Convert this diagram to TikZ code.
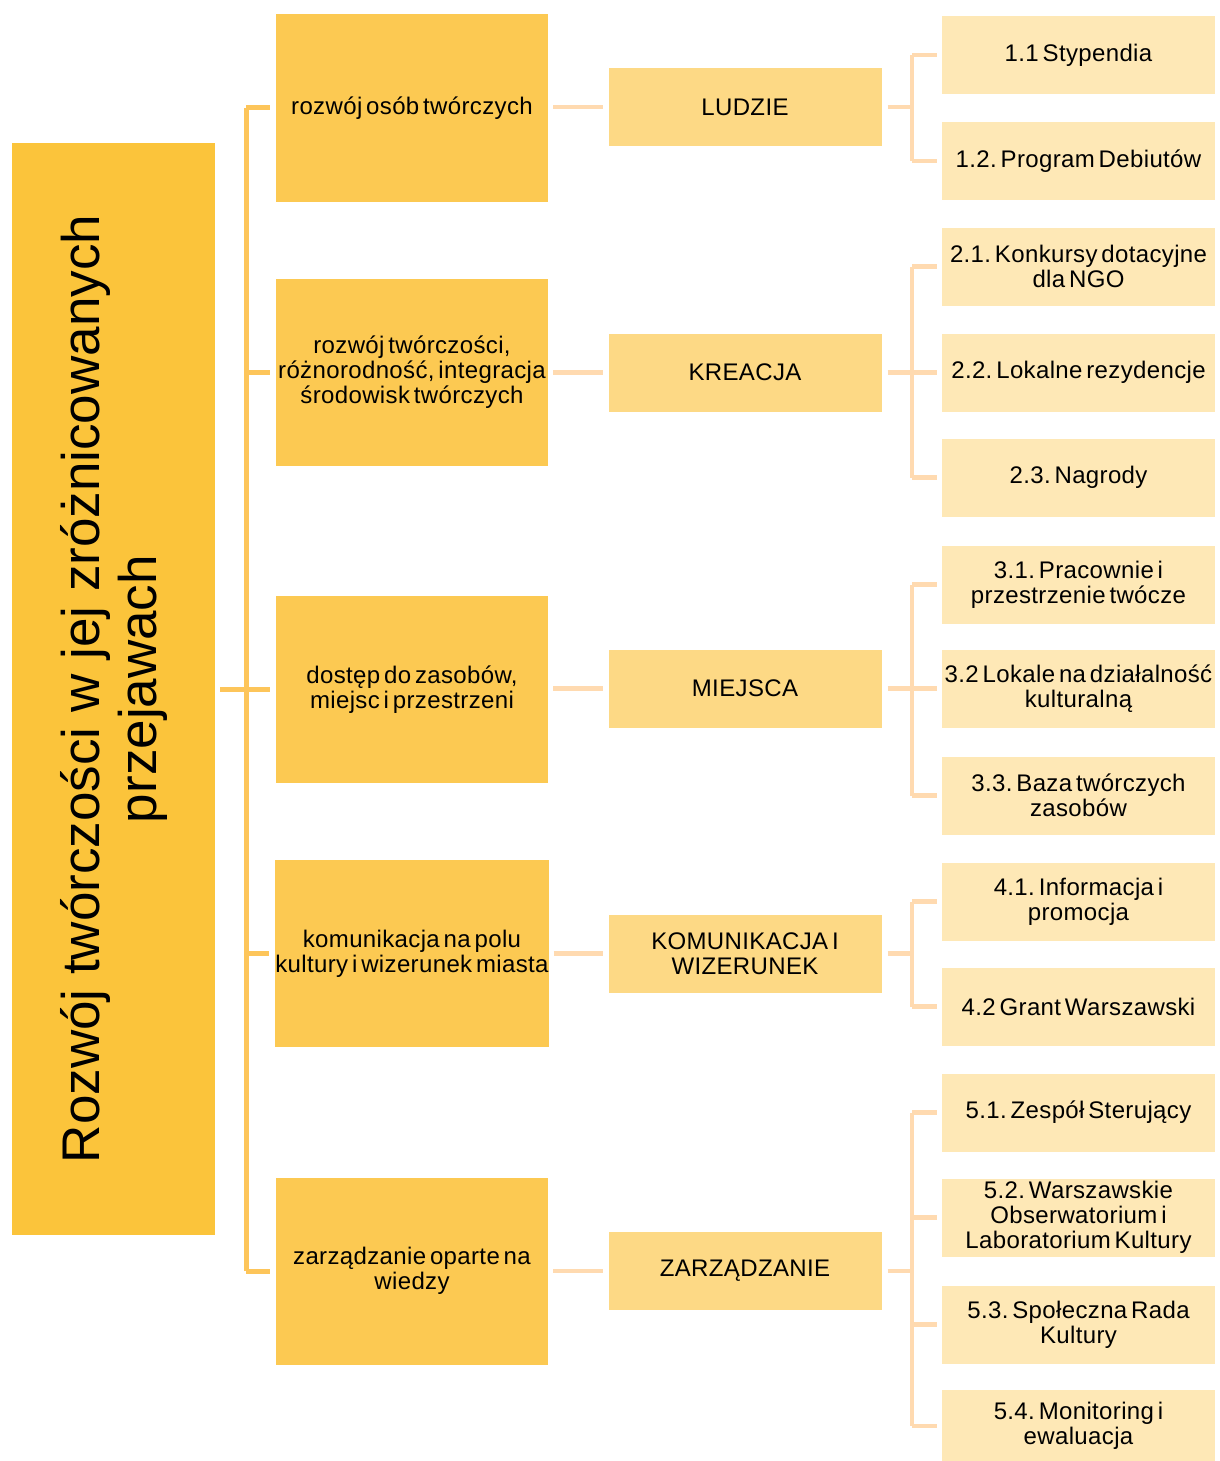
\documentclass[tikz,border=0pt]{standalone}
\usepackage{fontspec}
\setmainfont{Liberation Sans}
\newfontfamily\boxfont[WordSpace=0.55, LetterSpace=1.5]{Liberation Sans}
\definecolor{cTitle}{HTML}{FBC43B}
\definecolor{cA}{HTML}{FCC952}
\definecolor{cB}{HTML}{FDD985}
\definecolor{cC}{HTML}{FEE8B6}
\definecolor{cLineA}{HTML}{FDC55A}
\definecolor{cLineB}{HTML}{FFDAB0}
\frenchspacing
\begin{document}
\begin{tikzpicture}[x=1pt,y=-1pt,
  every node/.style={inner sep=0pt, outer sep=0pt, align=center, text=black,
    font=\boxfont\frenchspacing\fontsize{24}{25}\selectfont},
  titlebox/.style={fill=cTitle, rotate=90, minimum width=1092pt, minimum height=203pt,
    font=\rmfamily\fontsize{53}{57}\selectfont},
  aBox/.style={fill=cA, minimum width=272pt, minimum height=187pt},
  bBox/.style={fill=cB, minimum width=273pt, minimum height=78pt},
  cBox/.style={fill=cC, minimum width=273pt, minimum height=78pt},
  lineA/.style={draw=cLineA, line width=5pt},
  lineB/.style={draw=cLineB, line width=4.5pt},
]
\useasboundingbox (0,0) rectangle (1219,1461);

\node[titlebox] (T) at (113.5,689) {Rozwój twórczości w jej zróżnicowanych\\przejawach};

\node[aBox] (A1) at (412,108) {rozwój osób twórczych};
\node[aBox] (A2) at (412,372) {rozwój twórczości,\\różnorodność, integracja\\środowisk twórczych};
\node[aBox] (A3) at (412,689.5) {dostęp do zasobów,\\miejsc i przestrzeni};
\node[aBox] (A4) at (412,953.5) {komunikacja na polu\\kultury i wizerunek miasta};
\node[aBox] (A5) at (412,1271) {zarządzanie oparte na\\wiedzy};

\node[bBox] (B1) at (745,107) {LUDZIE};
\node[bBox] (B2) at (745,372.5) {KREACJA};
\node[bBox] (B3) at (745,688.5) {MIEJSCA};
\node[bBox] (B4) at (745,953.5) {KOMUNIKACJA I\\WIZERUNEK};
\node[bBox] (B5) at (745,1271) {ZARZĄDZANIE};

\node[cBox] (C11) at (1078.5,55) {1.1 Stypendia};
\node[cBox] (C12) at (1078.5,161) {1.2. Program Debiutów};
\node[cBox] (C21) at (1078.5,266.5) {2.1. Konkursy dotacyjne\\dla NGO};
\node[cBox] (C22) at (1078.5,372.5) {2.2. Lokalne rezydencje};
\node[cBox] (C23) at (1078.5,477.5) {2.3. Nagrody};
\node[cBox] (C31) at (1078.5,584.5) {3.1. Pracownie i\\przestrzenie twócze};
\node[cBox] (C32) at (1078.5,688.5) {3.2 Lokale na działalność\\kulturalną};
\node[cBox] (C33) at (1078.5,795.5) {3.3. Baza twórczych\\zasobów};
\node[cBox] (C41) at (1078.5,901.5) {4.1. Informacja i\\promocja};
\node[cBox] (C42) at (1078.5,1006.5) {4.2 Grant Warszawski};
\node[cBox] (C51) at (1078.5,1112.5) {5.1. Zespół Sterujący};
\node[cBox] (C52) at (1078.5,1217.5) {5.2. Warszawskie\\Obserwatorium i\\Laboratorium Kultury};
\node[cBox] (C53) at (1078.5,1324.5) {5.3. Społeczna Rada\\Kultury};
\node[cBox, minimum height=72pt] (C54) at (1078.5,1426) {5.4. Monitoring i\\ewaluacja};

% level 0 -> level 1 bracket
\draw[lineA] ([xshift=5pt]T.south) -- ([xshift=-30pt]T.south -| A1.west);
\draw[lineA] ([xshift=-30pt]A1.west) -- ([xshift=-30pt]A5.west);
\foreach \n in {A1,A2,A3,A4,A5}
  \draw[lineA] ([xshift=-30pt]\n.west) -- ([xshift=-6pt]\n.west);

% level 1 -> level 2
\foreach \a/\b in {A1/B1,A2/B2,A3/B3,A4/B4,A5/B5}
  \draw[lineB] ([xshift=5pt]\b.west -| \a.east) -- ([xshift=-6pt]\b.west);

% level 2 -> level 3 brackets
\foreach \b/\first/\last/\kids in {B1/C11/C12/{C11,C12}, B2/C21/C23/{C21,C22,C23},
    B3/C31/C33/{C31,C32,C33}, B4/C41/C42/{C41,C42}, B5/C51/C54/{C51,C52,C53,C54}}{
  \draw[lineB] ([xshift=6pt]\b.east) -- ([xshift=-30pt]\b.east -| \first.west);
  \draw[lineB] ([xshift=-30pt]\first.west) -- ([xshift=-30pt]\last.west);
  \foreach \c in \kids
    \draw[lineB] ([xshift=-30pt]\c.west) -- ([xshift=-5pt]\c.west);
}
\end{tikzpicture}
\end{document}
